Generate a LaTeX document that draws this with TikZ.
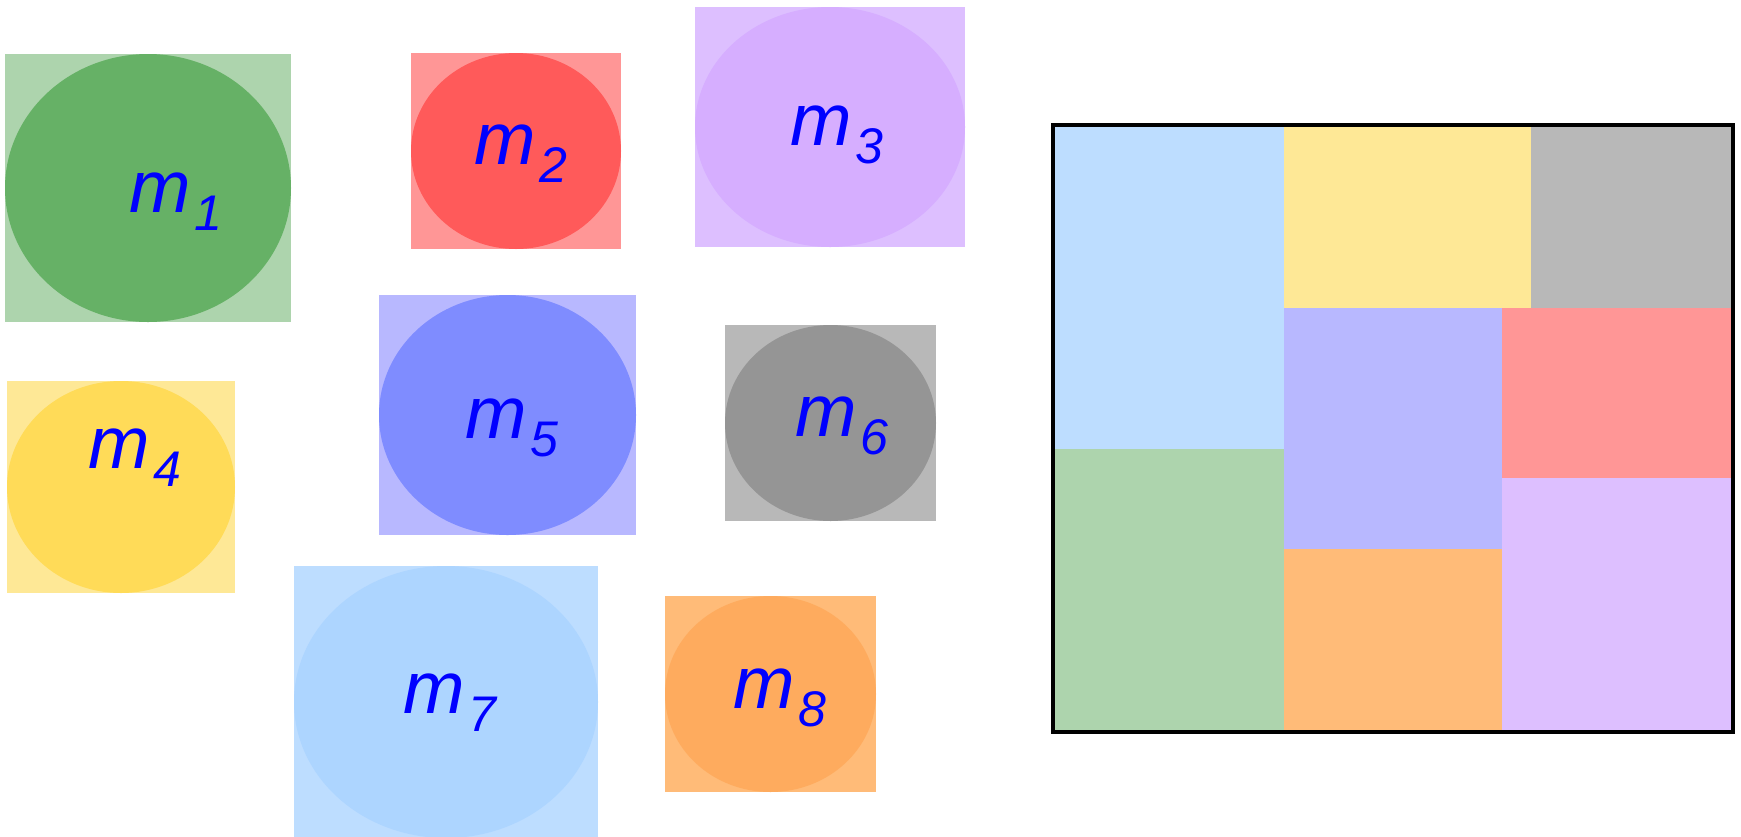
\documentclass[tikz,border=0pt]{standalone}
\usepackage{fontspec}
\setmainfont{Liberation Sans}
\usepackage{tikz}
\usetikzlibrary{shapes.geometric, positioning, fit, calc}

\definecolor{boxgreen}{HTML}{ADD4AD}  \definecolor{coregreen}{HTML}{66B166}
\definecolor{boxred}{HTML}{FF9696}    \definecolor{corered}{HTML}{FF5A5A}
\definecolor{boxlilac}{HTML}{DDBFFF}  \definecolor{corelilac}{HTML}{D6AEFF}
\definecolor{boxyellow}{HTML}{FEE896} \definecolor{coreyellow}{HTML}{FFDB58}
\definecolor{boxblue}{HTML}{B8B8FF}   \definecolor{coreblue}{HTML}{7F8CFF}
\definecolor{boxgray}{HTML}{B8B8B8}   \definecolor{coregray}{HTML}{959595}
\definecolor{boxsky}{HTML}{BDDDFF}    \definecolor{coresky}{HTML}{ADD5FF}
\definecolor{boxorange}{HTML}{FFBB78} \definecolor{coreorange}{HTML}{FEAB5E}

\newcommand{\modname}[1]{m\kern0.07cm\raisebox{-0.36cm}{\fontsize{28.5}{30}\selectfont #1}}

\begin{document}
\begin{tikzpicture}[
  x=0.02cm, y=-0.02cm,
  modbox/.style={rectangle, inner sep=0pt, draw=none},
  modcore/.style={ellipse, inner sep=0pt, draw=none},
  modlabel/.style={anchor=base west, inner sep=0pt, text=blue, font=\fontsize{42}{44}\selectfont\itshape},
  slot/.style={rectangle, inner sep=0pt, draw=none},
  chipframe/.style={rectangle, draw=black, line width=0.075cm, inner sep=0.04cm}
]
\useasboundingbox (0,0) rectangle (1741,836);
\clip (0,0) rectangle (1741,836);

% Modules
\foreach \n/\xa/\ya/\xb/\yb/\lx/\ly/\cb/\ce in {
    1/5/54/291/322/129/212/boxgreen/coregreen,
    2/411/53/621/249/474/164/boxred/corered,
    3/695/7/965/247/790/145/boxlilac/corelilac,
    4/7/381/235/593/88/468/boxyellow/coreyellow,
    5/379/295/636/535/465/438/boxblue/coreblue,
    6/725/325/936/521/795/436/boxgray/coregray,
    7/294/566/598/838/403/713/boxsky/coresky,
    8/665/596/876/792/733/708/boxorange/coreorange}
{
  \node[modbox, fill=\cb, fit={(\xa,\ya) (\xb,\yb)}] (box\n) {};
  \node[modcore, fill=\ce, minimum width={(\xb-\xa)*0.02cm}, minimum height={(\yb-\ya)*0.02cm}] (core\n) at (box\n.center) {};
  \node[modlabel] (name\n) at (\lx,\ly) {\modname{\n}};
}

% Floorplan
\node[slot, fill=boxsky,    fit={(1055,127) (1284,449)}] (slot7) {};
\node[slot, fill=boxgreen,  fit={(1055,449) (1284,730)}] (slot1) {};
\node[slot, fill=boxyellow, fit={(1284,127) (1531,308)}] (slot4) {};
\node[slot, fill=boxgray,   fit={(1531,127) (1731,308)}] (slot6) {};
\node[slot, fill=boxblue,   fit={(1284,308) (1502,549)}] (slot5) {};
\node[slot, fill=boxorange, fit={(1284,549) (1502,730)}] (slot8) {};
\node[slot, fill=boxred,    fit={(1502,308) (1731,478)}] (slot2) {};
\node[slot, fill=boxlilac,  fit={(1502,478) (1731,730)}] (slot3) {};
\node[chipframe, fit=(slot7) (slot3)] (chip) {};

\end{tikzpicture}
\end{document}
